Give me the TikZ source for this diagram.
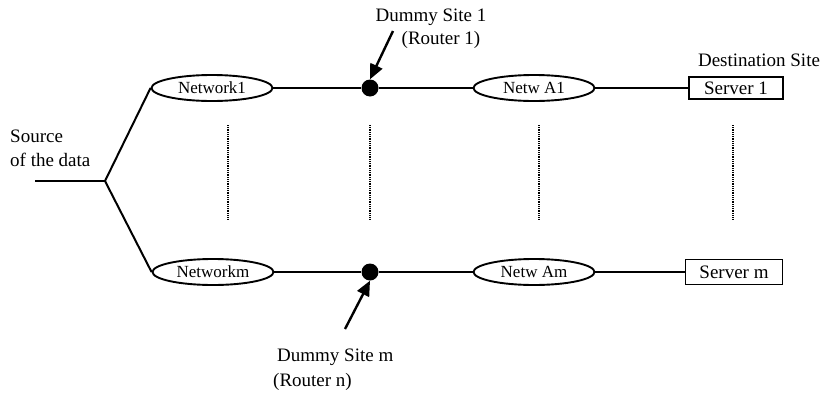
\documentclass[tikz,border=0pt]{standalone}
\usepackage{fontspec}
\setmainfont{Liberation Serif}
\usetikzlibrary{arrows.meta,shapes.geometric}
\begin{document}
\begin{tikzpicture}[x=1pt,y=-1pt,
  wire/.style={line width=2pt},
  net/.style={draw,ellipse,line width=1.9pt,minimum width=121pt,minimum height=26pt,inner sep=0pt,
              font=\fontsize{17}{20}\selectfont},
  srv/.style={draw,rectangle,line width=1.9pt,minimum width=94pt,minimum height=22pt,inner sep=0pt,
              font=\fontsize{19}{22}\selectfont},
  router/.style={circle,fill=black,minimum size=17pt,inner sep=0pt},
  lbl/.style={inner sep=0pt,font=\fontsize{19}{22}\selectfont},
  gap/.style={line width=1.6pt,dash pattern=on 1pt off 0.8pt},
  pointer/.style={line width=2.4pt,-{Triangle[length=15pt,width=13pt]}}]
\useasboundingbox (0,0) rectangle (836,394);

% source and its split
\coordinate (src) at (35,181);
\coordinate (br) at (105,181);
\node[lbl,anchor=west] (srcA) at (10,136) {Source};
\node[lbl,anchor=west] (srcB) at (10,160) {of the data};

% upper path
\node[net] (n1) at (212,88) {Network1};
\node[router] (d1) at (370,88) {};
\node[net] (a1) at (534,88) {Netw A1};
\node[srv] (s1) at (736,88) {Server 1};
\node[lbl] (dest) at (759,60) {Destination Site};

% lower path
\node[net] (nm) at (213,272) {Networkm};
\node[router] (dm) at (370,272) {};
\node[net] (am) at (534,272) {Netw Am};
\node[srv,minimum width=97pt,minimum height=25pt] (sm) at (734,272) {Server m};

% wiring
\draw[wire] (src) -- (br);
\draw[wire] (br) -- (n1.west);
\draw[wire] (br) -- (nm.west);
\draw[wire] (n1.east) -- (d1) -- (a1.west);
\draw[wire] (a1.east) -- (s1.west);
\draw[wire] (nm.east) -- (dm) -- (am.west);
\draw[wire] (am.east) -- (sm.west);

% dotted columns
\foreach \x [count=\i] in {228,370,539,733}{
  \coordinate (t\i) at (\x,125);
  \coordinate (b\i) at (\x,220);
  \draw[gap] (t\i) -- (b\i);
}

% router labels and pointers
\node[lbl] (ds1) at (431,17) {Dummy Site 1};
\node[lbl] (r1) at (441,40) {(Router 1)};
\coordinate (p1) at (393,31);
\draw[pointer] (p1) -- (d1.north);

\node[lbl,anchor=west] (dsm) at (277,357) {Dummy Site m};
\node[lbl,anchor=west] (rn) at (273,382) {(Router n)};
\coordinate (pm) at (345,329);
\draw[pointer] (pm) -- (dm.south);
\end{tikzpicture}
\end{document}
